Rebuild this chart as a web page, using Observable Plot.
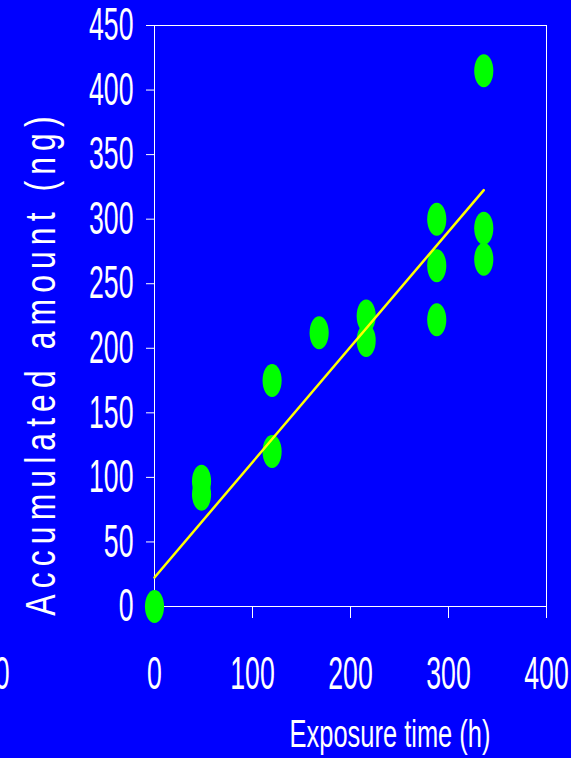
<!DOCTYPE html>
<html>
<head>
<meta charset="utf-8">
<script src="https://cdn.jsdelivr.net/npm/d3@7"></script>
<script src="https://cdn.jsdelivr.net/npm/@observablehq/plot@0.6"></script>
<style>
  html, body { margin: 0; padding: 0; background: #0000FF; }
  #chart { width: 571px; height: 758px; overflow: hidden; }
</style>
</head>
<body>
<div id="chart"></div>
<script>
// Data
const times   = [0, 48, 48, 120, 120, 168, 216, 216, 288, 288, 288, 336, 336, 336];
const amounts = [0, 97, 87, 175, 120, 212, 225, 206, 300, 264, 222, 415, 293, 269];
const fitTimes   = [0, 336];
const fitAmounts = [22.5, 322.5];
const xTicks = [0, 100, 200, 300, 400];
const yTicks = [0, 50, 100, 150, 200, 250, 300, 350, 400, 450];
const xLabel = "Exposure time (h)";
const yLabel = "Accumulated amount (ng)";

const points = times.map((t, i) => ({t, a: amounts[i]}));
const fit = fitTimes.map((t, i) => ({t, a: fitAmounts[i]}));

// Ellipse symbol (taller than wide)
const ellipse = {
  draw(context, size) {
    const r = Math.sqrt(size / Math.PI);
    const ry = r, rx = r * 0.58, k = 0.5523;
    context.moveTo(rx, 0);
    context.bezierCurveTo(rx, k * ry, k * rx, ry, 0, ry);
    context.bezierCurveTo(-k * rx, ry, -rx, k * ry, -rx, 0);
    context.bezierCurveTo(-rx, -k * ry, -k * rx, -ry, 0, -ry);
    context.bezierCurveTo(k * rx, -ry, rx, -k * ry, rx, 0);
    context.closePath();
  }
};

const svg = Plot.plot({
  width: 571,
  height: 758,
  marginLeft: 154,
  marginRight: 25,
  marginTop: 25,
  marginBottom: 152,
  style: {
    background: "#0000FF",
    color: "white",
    fontFamily: "'Liberation Sans', Arial, sans-serif",
    fontSize: "46px"
  },
  x: {domain: [0, 400]},
  y: {domain: [0, 450]},
  marks: [
    Plot.frame({stroke: "white", strokeWidth: 1}),
    Plot.axisX({ticks: xTicks, tickSize: 12, tickPadding: 38, label: null, stroke: "white", fontSize: 46}),
    Plot.axisY({ticks: yTicks, tickSize: 8, tickPadding: 13, label: null, stroke: "white", fontSize: 46}),
    Plot.dot(points, {x: "t", y: "a", r: 16.5, symbol: ellipse, fill: "#00FF00", stroke: "none"}),
    Plot.line(fit, {x: "t", y: "a", stroke: "#FFFF00", strokeWidth: 2.5})
  ]
});

// condense tick labels horizontally (narrow tall font in reference)
d3.select(svg).selectAll("g[aria-label='x-axis tick label'] text, g[aria-label='y-axis tick label'] text")
  .attr("transform", function() { return (this.getAttribute("transform") || "") + " scale(0.58,1)"; })
  .attr("fill", "white");

const s = d3.select(svg);
s.append("text")
  .attr("transform", "translate(390,747) scale(0.67,1)")
  .attr("text-anchor", "middle")
  .attr("fill", "white")
  .style("font-size", "38px")
  .text(xLabel);

s.append("text")
  .attr("transform", "translate(55,363) rotate(-90) scale(0.76,1)")
  .attr("text-anchor", "middle")
  .attr("fill", "white")
  .style("font-size", "42px")
  .style("letter-spacing", "8px")
  .text(yLabel);

s.append("text")
  .attr("transform", "translate(9.5,689) scale(0.58,1)")
  .attr("text-anchor", "end")
  .attr("fill", "white")
  .style("font-size", "46px")
  .text("0");

document.getElementById("chart").appendChild(svg);
</script>
</body>
</html>
